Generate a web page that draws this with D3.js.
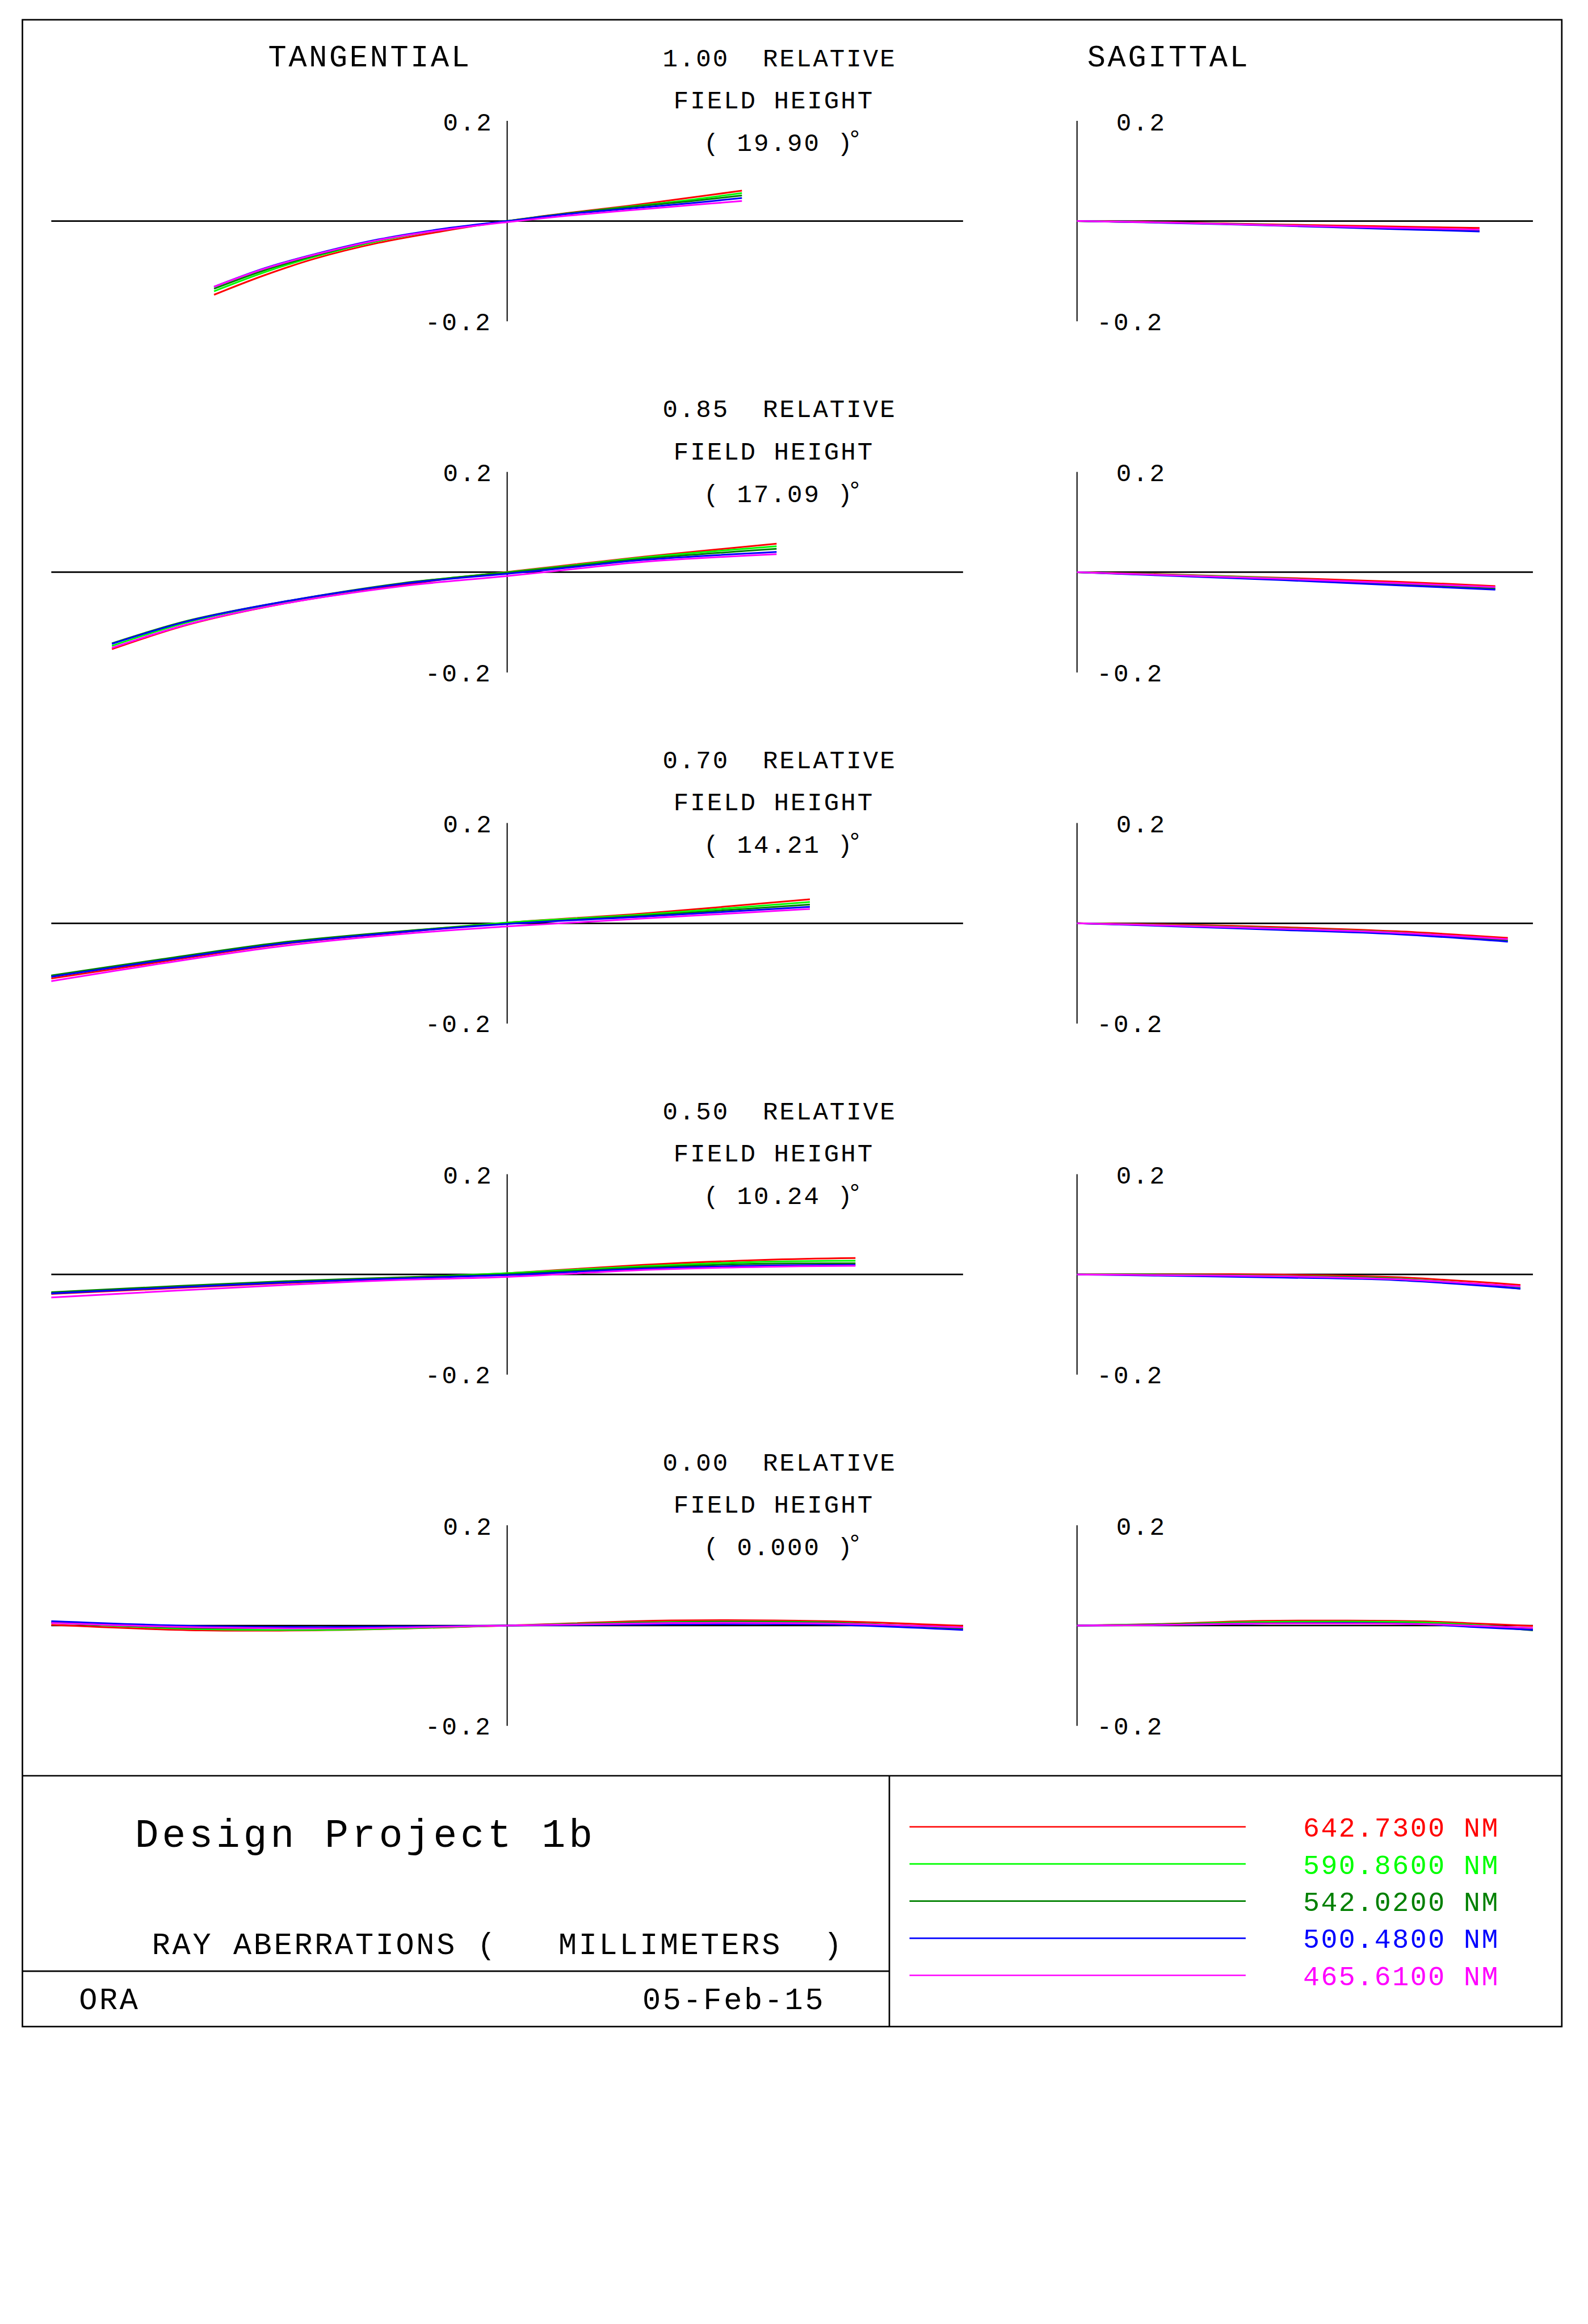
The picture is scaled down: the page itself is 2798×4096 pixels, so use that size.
<!DOCTYPE html>
<html><head><meta charset="utf-8">
<script src="https://cdn.jsdelivr.net/npm/d3@7"></script>
<style>
html,body{margin:0;padding:0;background:#fff;}
svg{display:block;}
text{font-family:"Liberation Mono","DejaVu Sans Mono",monospace;}
</style></head>
<body>
<script>
// ---------------- DATA ----------------
const wavelengths = ["642.7300", "590.8600", "542.0200", "500.4800", "465.6100"];
const fieldRel = ["1.00", "0.85", "0.70", "0.50", "0.00"];
const fieldAngle = ["19.90", "17.09", "14.21", "10.24", "0.000"];
const yTickLabels = ["0.2", "-0.2"];
const yTickValues = [0.2, -0.2];

// Tangential: relative pupil coordinate per field row
const tanPupil = [
  [-0.643, -0.532, -0.422, -0.283, -0.145, 0, 0.131, 0.269, 0.407, 0.515],
  [-0.867, -0.697, -0.498, -0.232, -0.1, 0, 0.15, 0.299, 0.591],
  [-1.0, -0.764, -0.498, -0.232, 0, 0.299, 0.664],
  [-1.0, -0.498, -0.25, 0, 0.299, 0.565, 0.764],
  [-1.0, -0.67, -0.365, 0, 0.359, 0.697, 1.0]
];
const tan642 = [
  [-0.147, -0.108, -0.075, -0.0436, -0.0207, 0, 0.016, 0.0308, 0.0473, 0.0606],
  [-0.1535, -0.104, -0.064, -0.026, -0.0096, 0.0005, 0.0157, 0.0308, 0.0568],
  [-0.110, -0.0775, -0.042, -0.018, 0.0013, 0.0197, 0.048],
  [-0.039, -0.0177, -0.008, 0.0025, 0.019, 0.029, 0.0326],
  [0.0013, -0.0096, -0.0088, 0, 0.0101, 0.0088, -0.0008]
];
const tan590 = [
  [-0.140, -0.102, -0.071, -0.040, -0.018, 0, 0.015, 0.029, 0.043, 0.056],
  [-0.147, -0.099, -0.061, -0.023, -0.009, 0, 0.0145, 0.0295, 0.0518],
  [-0.105, -0.074, -0.040, -0.0165, 0.0015, 0.0177, 0.0424],
  [-0.037, -0.016, -0.007, 0.0025, 0.0164, 0.0253, 0.0273],
  [0.0056, -0.0071, -0.0083, 0, 0.0071, 0.0063, -0.0063]
];
const tan542 = [
  [-0.135, -0.098, -0.069, -0.038, -0.017, 0, 0.015, 0.028, 0.040, 0.051],
  [-0.142, -0.096, -0.060, -0.022, -0.0095, -0.0008, 0.0131, 0.027, 0.0465],
  [-0.104, -0.0725, -0.0384, -0.0157, -0.0005, 0.0154, 0.0374],
  [-0.0354, -0.0139, -0.0063, 0.0005, 0.0139, 0.0215, 0.0222],
  [0.0063, -0.005, -0.0038, 0, 0.0063, 0.0056, -0.0056]
];
const tan500 = [
  [-0.131, -0.094, -0.066, -0.0367, -0.016, 0, 0.014, 0.025, 0.036, 0.046],
  [-0.143, -0.097, -0.060, -0.0235, -0.011, -0.0033, 0.0106, 0.0245, 0.0404],
  [-0.1066, -0.075, -0.041, -0.0175, -0.0013, 0.0134, 0.0328],
  [-0.0379, -0.0164, -0.0085, -0.0013, 0.0114, 0.0177, 0.019],
  [0.0088, -0.0013, -0.003, 0, 0.0025, 0.002, -0.0088]
];
const tan465 = [
  [-0.131, -0.095, -0.067, -0.038, -0.018, -0.002, 0.0105, 0.0216, 0.032, 0.040],
  [-0.151, -0.103, -0.064, -0.028, -0.016, -0.0076, 0.0068, 0.0207, 0.0359],
  [-0.1154, -0.081, -0.046, -0.0215, -0.0063, 0.0096, 0.0285],
  [-0.046, -0.0215, -0.0115, -0.005, 0.0088, 0.0152, 0.0172],
  [0.005, -0.0038, -0.0056, 0, 0.005, 0.0043, -0.0038]
];

// Sagittal: relative pupil coordinate per field row
const sagPupil = [
  [0, 0.2, 0.4425, 0.65, 0.883],
  [0, 0.178, 0.4546, 0.7, 0.9175],
  [0, 0.178, 0.4546, 0.7, 0.945],
  [0, 0.178, 0.4546, 0.7, 0.9727],
  [0, 0.178, 0.385, 0.593, 0.765, 0.869, 1.0]
];
const sag642 = [
  [0, -0.0023, -0.0069, -0.0102, -0.0138],
  [0, -0.0038, -0.0114, -0.0189, -0.0278],
  [0, -0.002, -0.0078, -0.0159, -0.029],
  [0, 0.0005, -0.0005, -0.0056, -0.021],
  [0, 0.003, 0.0091, 0.0098, 0.0081, 0.0043, -0.0008]
];
const sag590 = [
  [0, -0.003, -0.008, -0.0135, -0.0193],
  [0, -0.0045, -0.0126, -0.0235, -0.0323],
  [0, -0.0033, -0.0101, -0.0184, -0.0336],
  [0, 0, -0.003, -0.0081, -0.0258],
  [0, 0.0023, 0.0068, 0.0078, 0.006, 0.0015, -0.0066]
];
const sag542 = [
  [0, -0.003, -0.0082, -0.0137, -0.0195],
  [0, -0.0053, -0.0139, -0.0242, -0.0331],
  [0, -0.0038, -0.0106, -0.0189, -0.0348],
  [0, -0.0005, -0.0035, -0.0088, -0.0283],
  [0, 0.002, 0.0048, 0.0056, 0.0035, -0.0003, -0.0096]
];
const sag500 = [
  [0, -0.0037, -0.0092, -0.0148, -0.0207],
  [0, -0.0063, -0.0159, -0.026, -0.0348],
  [0, -0.005, -0.0134, -0.0217, -0.0366],
  [0, -0.0025, -0.0063, -0.0114, -0.0283],
  [0, 0.001, 0.0035, 0.0048, 0.0023, -0.0028, -0.0086]
];
const sag465 = [
  [0, -0.003, -0.0085, -0.0125, -0.017],
  [0, -0.0051, -0.0134, -0.0217, -0.0298],
  [0, -0.0038, -0.0109, -0.0189, -0.0316],
  [0, -0.0013, -0.0038, -0.0096, -0.024],
  [0, 0.001, 0.004, 0.004, 0.0028, -0.0003, -0.0048]
];

const titleText = "Design Project 1b";
const authorText = "ORA";
const dateText = "05-Feb-15";

// ---------------- STYLE / LAYOUT ----------------
const colors = ["#ff0000", "#00ff00", "#008000", "#0000ff", "#ff00ff"];
const tanSeries = [tan642, tan590, tan542, tan500, tan465];
const sagSeries = [sag642, sag590, sag542, sag500, sag465];

const W = 4180, H = 6119;
const svg = d3.select("body").append("svg")
  .attr("width", 2798).attr("height", 4096)
  .attr("viewBox", `0 0 ${W} ${H}`);
svg.append("rect").attr("width", W).attr("height", H).attr("fill", "#fff");

const fBig = {size: 80, ls: 5.5};
const fMed = {size: 66, ls: 4.4};
const fTitle = {size: 104, ls: 9};
const fLeg = {size: 72, ls: 3.8};

function txt(g, x, y, s, f, color) {
  return g.append("text").attr("x", x).attr("y", y)
    .attr("font-size", f.size).attr("letter-spacing", f.ls)
    .attr("fill", color || "#000").attr("xml:space", "preserve")
    .style("white-space", "pre").text(s);
}

// frame
const frame = {x0: 59, y0: 52, x1: 4111, y1: 5336};
svg.append("rect").attr("x", frame.x0).attr("y", frame.y0)
  .attr("width", frame.x1 - frame.x0).attr("height", frame.y1 - frame.y0)
  .attr("fill", "none").attr("stroke", "#000").attr("stroke-width", 4);

const xTan = d3.scaleLinear().domain([-1, 1]).range([135, 2535]);
const xSag = d3.scaleLinear().domain([0, 1]).range([2835, 4035]);
const rowY0 = 582, rowStep = 924.5, halfH = 264;

txt(svg, 706, 174, "TANGENTIAL", fBig);
txt(svg, 2862, 174, "SAGITTAL", fBig);

fieldRel.forEach((rel, i) => {
  const ay = rowY0 + i * rowStep;
  const y = d3.scaleLinear().domain([-0.2, 0.2]).range([ay + halfH, ay - halfH]);
  const g = svg.append("g");

  // axes
  g.append("line").attr("x1", xTan(-1)).attr("x2", xTan(1)).attr("y1", y(0)).attr("y2", y(0))
    .attr("stroke", "#000").attr("stroke-width", 4);
  g.append("line").attr("x1", xTan(0)).attr("x2", xTan(0)).attr("y1", y(0.2)).attr("y2", y(-0.2))
    .attr("stroke", "#000").attr("stroke-width", 3);
  g.append("line").attr("x1", xSag(0)).attr("x2", xSag(1)).attr("y1", y(0)).attr("y2", y(0))
    .attr("stroke", "#000").attr("stroke-width", 4);
  g.append("line").attr("x1", xSag(0)).attr("x2", xSag(0)).attr("y1", y(0.2)).attr("y2", y(-0.2))
    .attr("stroke", "#000").attr("stroke-width", 3);

  // tick labels
  txt(g, 1166, y(yTickValues[0]) + 25, yTickLabels[0], fMed);
  txt(g, 1119, y(yTickValues[1]) + 23, yTickLabels[1], fMed);
  txt(g, 2938, y(yTickValues[0]) + 25, yTickLabels[0], fMed);
  txt(g, 2887, y(yTickValues[1]) + 23, yTickLabels[1], fMed);

  // field header
  txt(g, 1744, ay - 408, rel + "  RELATIVE", fMed);
  txt(g, 1773, ay - 297, "FIELD HEIGHT", fMed);
  const angleStr = "( " + fieldAngle[i] + " )°";
  const n = angleStr.length;
  const xs = Array.from(angleStr, (c, k) => k < n - 1 ? 1852 + k * 44 : 2230);
  const ys = Array.from(angleStr, (c, k) => k < n - 1 ? ay - 185 : ay - 195);
  g.append("text").attr("x", xs.join(" ")).attr("y", ys.join(" "))
    .attr("font-size", fMed.size).attr("fill", "#000")
    .attr("xml:space", "preserve").style("white-space", "pre").text(angleStr);

  // curves
  const line = d3.line().curve(d3.curveCatmullRom.alpha(0.5));
  tanSeries.forEach((ser, k) => {
    const pts = tanPupil[i].map((p, j) => [xTan(p), y(ser[i][j])]);
    g.append("path").attr("d", line(pts)).attr("fill", "none")
      .attr("stroke", colors[k]).attr("stroke-width", 4.5);
  });
  sagSeries.forEach((ser, k) => {
    const pts = sagPupil[i].map((p, j) => [xSag(p), y(ser[i][j])]);
    g.append("path").attr("d", line(pts)).attr("fill", "none")
      .attr("stroke", colors[k]).attr("stroke-width", 4.5);
  });
});

// bottom info block
const b = svg.append("g");
b.append("line").attr("x1", frame.x0).attr("x2", frame.x1).attr("y1", 4675.5).attr("y2", 4675.5)
  .attr("stroke", "#000").attr("stroke-width", 4);
b.append("line").attr("x1", 2341).attr("x2", 2341).attr("y1", 4675.5).attr("y2", frame.y1)
  .attr("stroke", "#000").attr("stroke-width", 4);
b.append("line").attr("x1", frame.x0).attr("x2", 2341).attr("y1", 5190).attr("y2", 5190)
  .attr("stroke", "#000").attr("stroke-width", 4);

txt(b, 355, 4863, titleText, fTitle);
txt(b, 400, 5145, "RAY ABERRATIONS (", fBig);
txt(b, 1470, 5145, "MILLIMETERS", fBig);
txt(b, 2168, 5145, ")", fBig);
txt(b, 208, 5290, authorText, fBig);
txt(b, 1691, 5290, dateText, fBig);

const legY = d3.scaleLinear().domain([0, 4]).range([4810, 5201]);
wavelengths.forEach((wl, k) => {
  b.append("line").attr("x1", 2394).attr("x2", 3279).attr("y1", legY(k)).attr("y2", legY(k))
    .attr("stroke", colors[k]).attr("stroke-width", 4);
  txt(b, 3430, legY(k) + 26, wl + " NM", fLeg, colors[k]);
});
</script>
</body></html>
